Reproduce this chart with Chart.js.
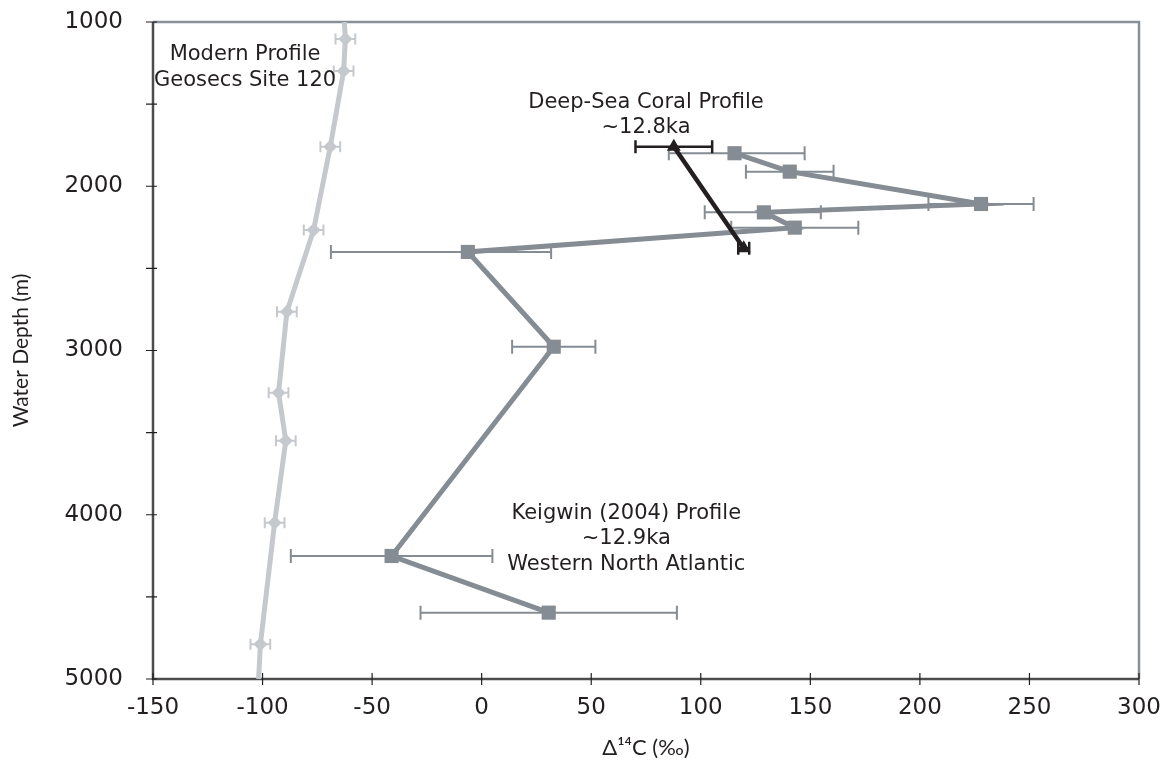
<!DOCTYPE html>
<html>
<head>
<meta charset="utf-8">
<script src="https://cdn.jsdelivr.net/npm/chart.js@4.4.0/dist/chart.umd.min.js"></script>
<style>
  html, body { margin: 0; padding: 0; background: #fff; }
  #wrap { width: 1172px; height: 775px; }
</style>
</head>
<body>
<div id="wrap"><canvas id="profilechart"></canvas></div>
<script>
// Modern profile (Geosecs site 120)
const modernD14C  = [-62.7, -62.2, -63.0, -69.1, -76.7, -88.9, -92.7, -89.4, -94.5, -101.0, -101.8];
const modernDepth = [1000, 1103, 1298, 1759, 2266, 2764, 3257, 3549, 4048, 4789, 5000];
const modernErr   = [null, 4.5, 4.5, 4.5, 4.5, 4.5, 4.5, 4.5, 4.5, 4.5, null];

// Keigwin (2004) profile, western North Atlantic
const keigwinD14C    = [115.4, 140.6, 227.9, 128.8, 142.9, -6.3, 32.9, -41.1, 30.6];
const keigwinDepth   = [1799, 1911, 2108, 2159, 2252, 2400, 2977, 4251, 4596];
const keigwinErrLow  = [30, 20, 24, 27, 29, 62.5, 19, 46, 58.5];
const keigwinErrHigh = [32, 20, 24, 26, 29, 38, 19, 46, 58.5];

// Deep-sea coral profile
const coralD14C  = [87.7, 119.6];
const coralDepth = [1759, 2378];
const coralErr   = [17.5, 2.5];

const depthTicks = [1000, 2000, 3000, 4000, 5000];

const textColor = "#231f20";

function toPoints(xs, ys) {
  return xs.map((v, i) => ({ x: v, y: ys[i] }));
}

// horizontal error bars, drawn just under each dataset's own line
const errorBars = {
  id: "errorBars",
  beforeDatasetDraw(chart, args) {
    const ds = chart.data.datasets[args.index];
    if (!ds.errLow) return;
    const xs = chart.scales.x, ys = chart.scales.y, a = chart.chartArea;
    const ctx = chart.ctx;
    ctx.save();
    ctx.beginPath();
    ctx.rect(a.left, a.top, a.right - a.left, a.bottom - a.top);
    ctx.clip();
    ctx.strokeStyle = ds.errColor;
    ctx.lineWidth = ds.errWidth;
    ds.data.forEach((p, i) => {
      const lo = ds.errLow[i], hi = ds.errHigh[i];
      if (lo == null) return;
      const y = ys.getPixelForValue(p.y);
      const x1 = xs.getPixelForValue(p.x - lo);
      const x2 = xs.getPixelForValue(p.x + hi);
      const c = ds.capSize / 2;
      ctx.beginPath();
      ctx.moveTo(x1, y); ctx.lineTo(x2, y);
      ctx.moveTo(x1, y - c); ctx.lineTo(x1, y + c);
      ctx.moveTo(x2, y - c); ctx.lineTo(x2, y + c);
      ctx.stroke();
    });
    ctx.restore();
  }
};

// frame and tick marks crossing the axes
const frame = {
  id: "frame",
  beforeDatasetsDraw(chart) {
    const ctx = chart.ctx, a = chart.chartArea;
    const xs = chart.scales.x, ys = chart.scales.y;
    ctx.save();
    ctx.lineWidth = 2.5;
    ctx.strokeStyle = "#8a9097";
    ctx.beginPath();
    ctx.moveTo(a.left, a.top); ctx.lineTo(a.right, a.top); ctx.lineTo(a.right, a.bottom);
    ctx.stroke();
    ctx.strokeStyle = "#4d4d4f";
    ctx.beginPath();
    ctx.moveTo(a.left, a.top); ctx.lineTo(a.left, a.bottom); ctx.lineTo(a.right, a.bottom);
    ctx.stroke();
    ctx.lineWidth = 1.2;
    ctx.strokeStyle = "#231f20";
    ctx.beginPath();
    ys.ticks.forEach((t) => {
      const y = ys.getPixelForValue(t.value);
      ctx.moveTo(a.left - 7, y); ctx.lineTo(a.left + 4, y);
    });
    xs.ticks.forEach((t) => {
      const x = xs.getPixelForValue(t.value);
      ctx.moveTo(x, a.bottom - 6); ctx.lineTo(x, a.bottom + 6);
    });
    ctx.stroke();
    ctx.restore();
  }
};

// text labels placed in data units
const notes = [
  { x: -108, depth: 1200, lines: ["Modern Profile", "Geosecs Site 120"] },
  { x: 75, depth: 1490, lines: ["Deep-Sea Coral Profile", "~12.8ka"] },
  { x: 66, depth: 3990, lines: ["Keigwin (2004) Profile", "~12.9ka", "Western North Atlantic"] },
];

const noteLabels = {
  id: "noteLabels",
  afterDatasetsDraw(chart) {
    const ctx = chart.ctx;
    const xs = chart.scales.x, ys = chart.scales.y;
    ctx.save();
    ctx.font = "21px 'DejaVu Sans'";
    ctx.fillStyle = textColor;
    ctx.textAlign = "center";
    ctx.textBaseline = "middle";
    notes.forEach((n) => {
      const x = xs.getPixelForValue(n.x);
      const y = ys.getPixelForValue(n.depth);
      n.lines.forEach((line, i) => ctx.fillText(line, x, y + i * 25.5));
    });
    ctx.restore();
  }
};

const ctx = document.getElementById("profilechart").getContext("2d");

new Chart(ctx, {
  type: "scatter",
  data: {
    datasets: [
      {
        label: "Deep-Sea Coral Profile",
        data: toPoints(coralD14C, coralDepth),
        showLine: true,
        borderColor: "#231f20",
        backgroundColor: "#231f20",
        borderWidth: 4.5,
        pointStyle: "triangle",
        pointRadius: 8,
        pointBorderWidth: 0,
        errLow: coralErr,
        errHigh: coralErr,
        errColor: "#231f20",
        errWidth: 2.5,
        capSize: 13,
        order: 0,
      },
      {
        label: "Keigwin (2004) Profile",
        data: toPoints(keigwinD14C, keigwinDepth),
        showLine: true,
        borderColor: "#858c93",
        backgroundColor: "#858c93",
        borderWidth: 5,
        pointStyle: "rect",
        pointRadius: 10,
        pointBorderWidth: 0,
        errLow: keigwinErrLow,
        errHigh: keigwinErrHigh,
        errColor: "#858c93",
        errWidth: 2,
        capSize: 14,
        order: 1,
      },
      {
        label: "Modern Profile",
        data: toPoints(modernD14C, modernDepth),
        showLine: true,
        borderColor: "#c5c8cd",
        backgroundColor: "#c5c8cd",
        borderWidth: 5,
        pointStyle: "rectRot",
        pointRadius: modernErr.map((e) => (e == null ? 0 : 7)),
        pointBorderWidth: 0,
        errLow: modernErr,
        errHigh: modernErr,
        errColor: "#c5c8cd",
        errWidth: 2,
        capSize: 11,
        order: 2,
      },
    ],
  },
  options: {
    responsive: true,
    maintainAspectRatio: false,
    animation: false,
    layout: {
      padding: { left: 0, right: 33, top: 22, bottom: 0 },
    },
    scales: {
      x: {
        type: "linear",
        min: -150,
        max: 300,
        grid: { display: false },
        border: { display: false },
        ticks: {
          stepSize: 50,
          padding: 7,
          color: textColor,
          font: { family: "'DejaVu Sans'", size: 23 },
          maxRotation: 0,
        },
        title: {
          display: true,
          text: "Δ¹⁴C (‰)",
          color: textColor,
          font: { family: "Lato", size: 22 },
          padding: { top: 4, bottom: 14 },
        },
        afterFit: (scale) => {
          scale.height = 96;
          scale.paddingLeft = 0;
          scale.paddingRight = 0;
        },
      },
      y: {
        type: "linear",
        reverse: true,
        min: 1000,
        max: 5000,
        grid: { display: false },
        border: { display: false },
        ticks: {
          stepSize: 500,
          padding: 22,
          color: textColor,
          font: { family: "'DejaVu Sans'", size: 23 },
          callback: (v) => (depthTicks.includes(v) ? String(v) : ""),
        },
        title: {
          display: true,
          text: "Water Depth (m)",
          color: textColor,
          font: { family: "Lato", size: 21 },
          padding: { top: 9, bottom: 4 },
        },
        afterFit: (scale) => {
          scale.width = 153;
          scale.paddingTop = 0;
          scale.paddingBottom = 0;
        },
      },
    },
    plugins: {
      legend: { display: false },
      tooltip: { enabled: false },
    },
  },
  plugins: [errorBars, frame, noteLabels],
});
</script>
</body>
</html>
